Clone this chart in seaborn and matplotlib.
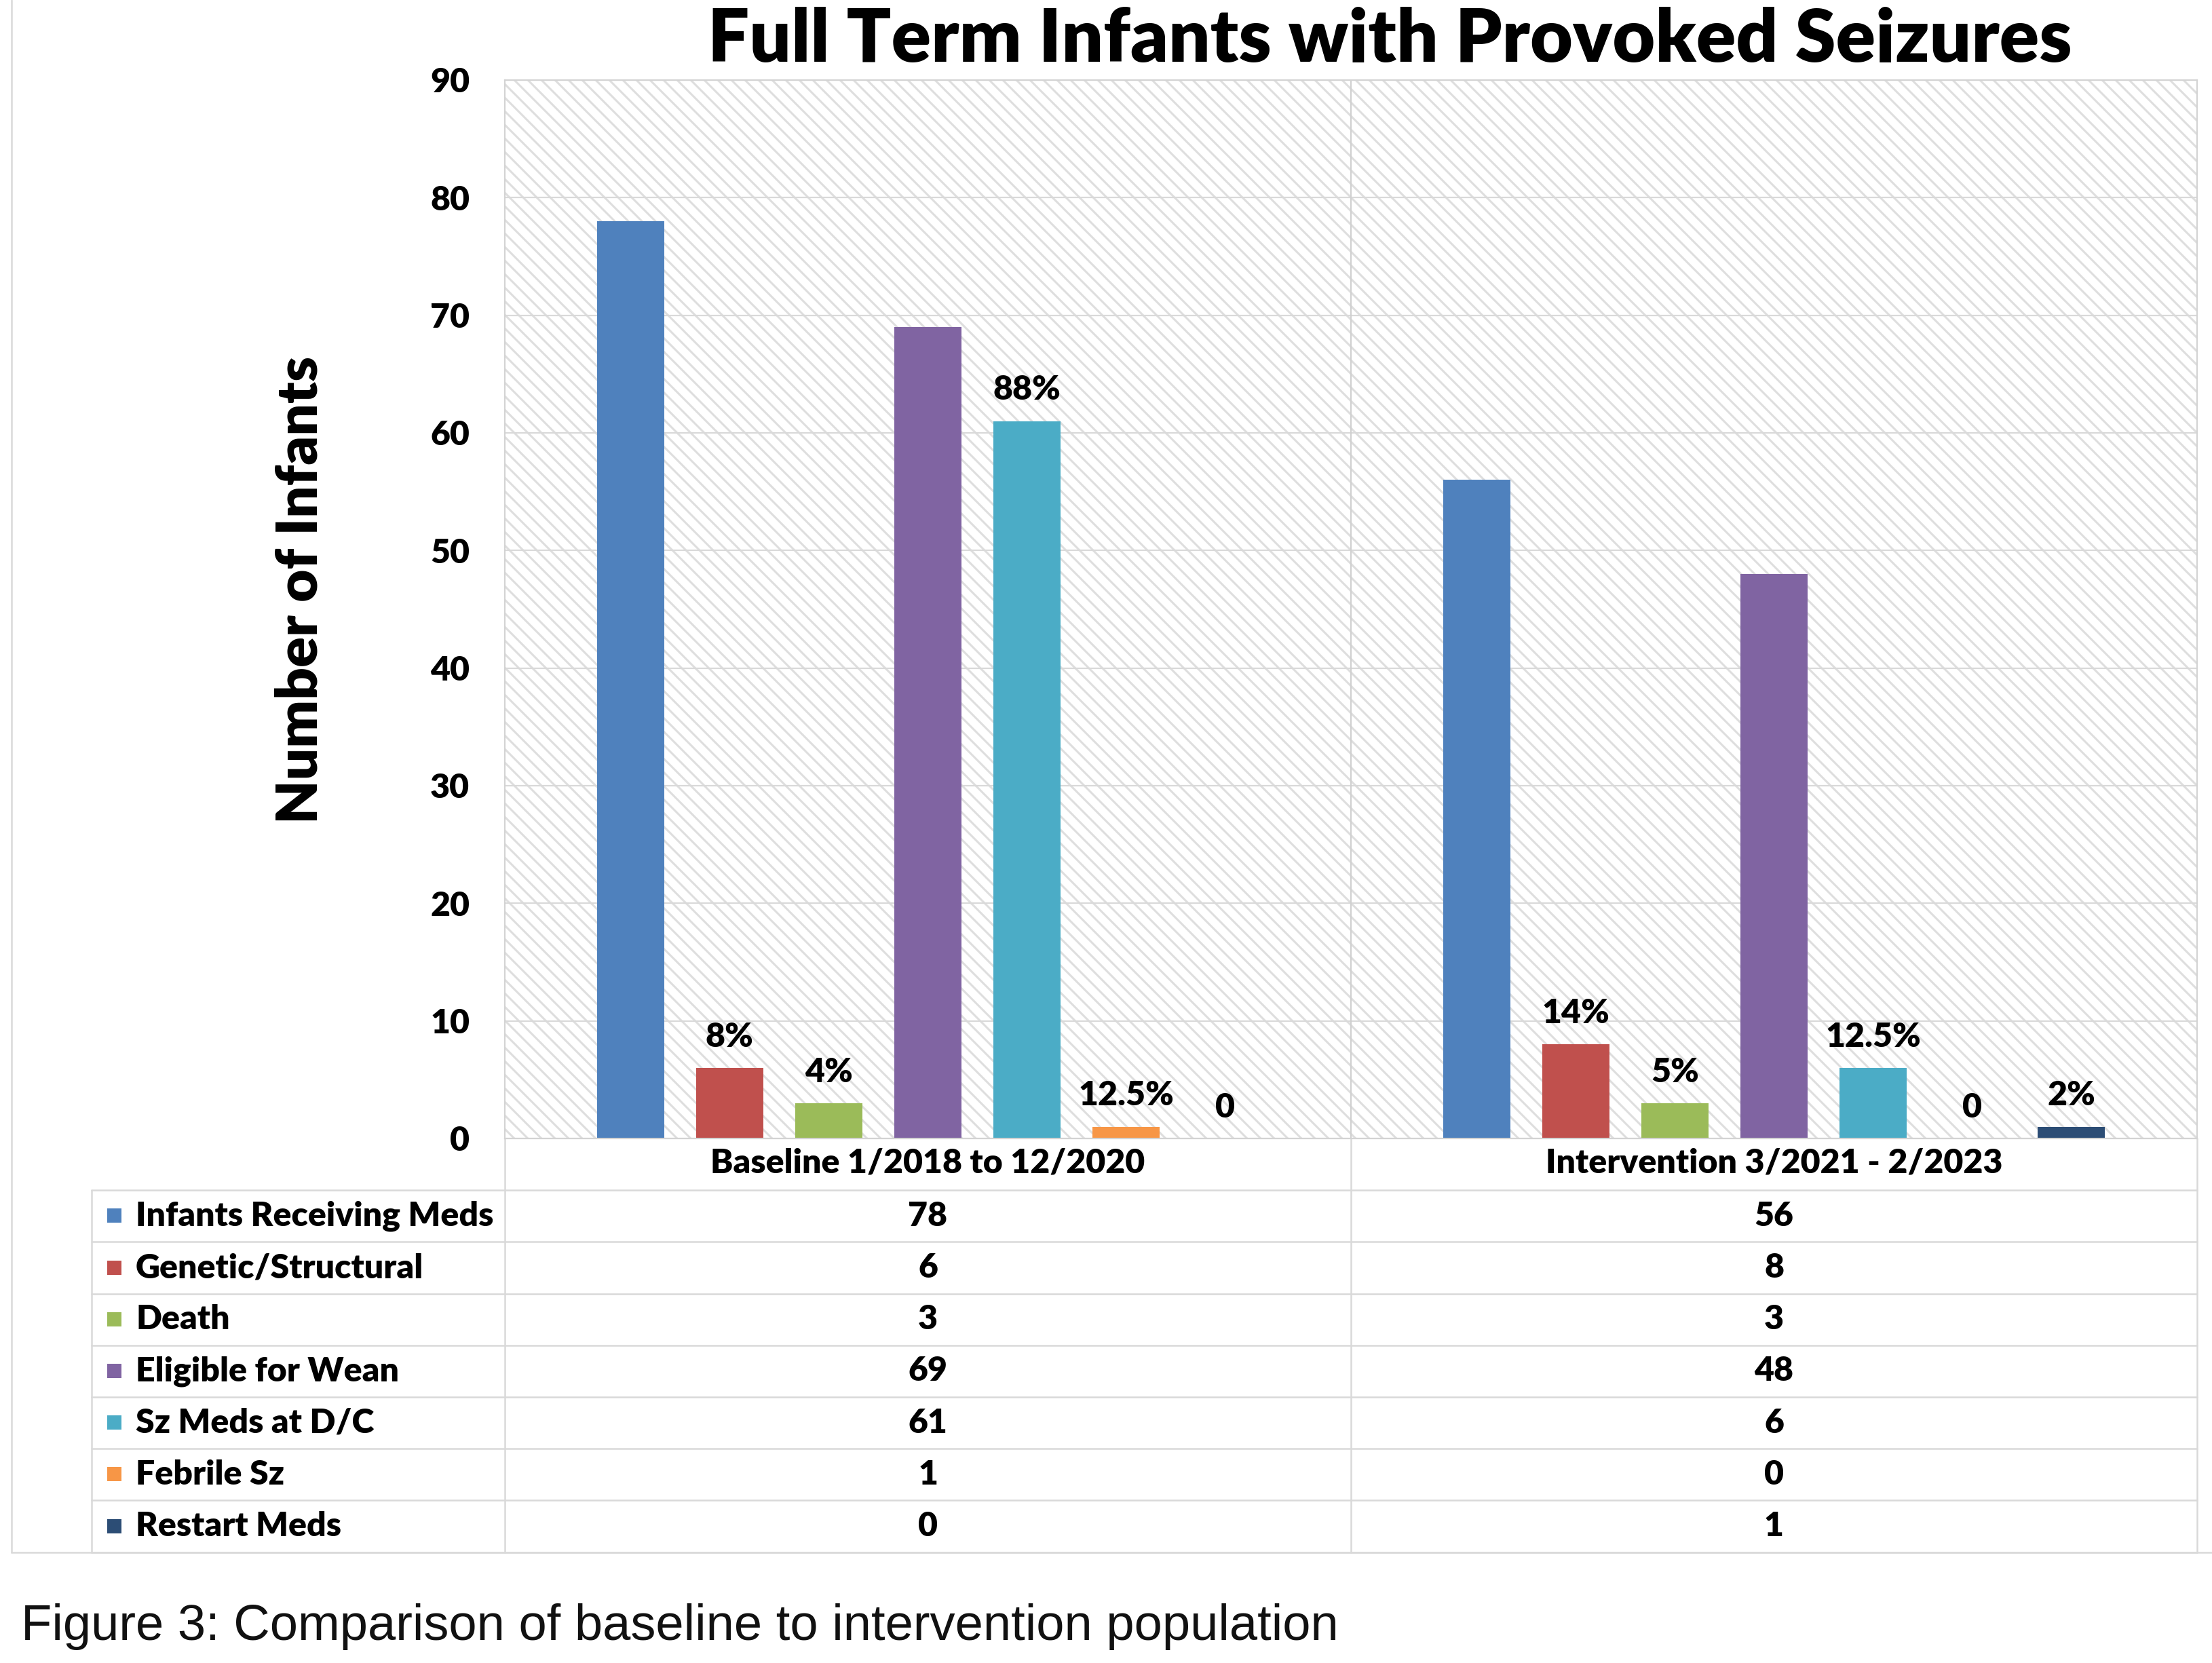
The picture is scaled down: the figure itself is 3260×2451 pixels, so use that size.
import matplotlib
matplotlib.use("Agg")
import matplotlib.pyplot as plt
from matplotlib.patches import Rectangle
import seaborn as sns
import pandas as pd

# ---------------- data ----------------
categories = ["Baseline 1/2018 to 12/2020", "Intervention 3/2021 - 2/2023"]
measures = ["Infants Receiving Meds", "Genetic/Structural", "Death",
            "Eligible for Wean", "Sz Meds at D/C", "Febrile Sz", "Restart Meds"]
baseline_values = [78, 6, 3, 69, 61, 1, 0]
intervention_values = [56, 8, 3, 48, 6, 0, 1]
baseline_labels = ["", "8%", "4%", "", "88%", "12.5%", "0"]
intervention_labels = ["", "14%", "5%", "", "12.5%", "0", "2%"]
colors = ["#4F81BD", "#C0504D", "#9BBB59", "#8064A2", "#4BACC6", "#F79646", "#2C4D75"]
yticks = [0, 10, 20, 30, 40, 50, 60, 70, 80, 90]
title = "Full Term Infants with Provoked Seizures"
ylabel = "Number of Infants"
caption = "Figure 3: Comparison of baseline to intervention population"

df = pd.DataFrame({
    "period": [categories[0]] * len(measures) + [categories[1]] * len(measures),
    "measure": measures + measures,
    "value": baseline_values + intervention_values,
})

# ---------------- layout (pixels) ----------------
W, H, DPI = 3260, 2451, 120
PL, PR, PT, PB = 744, 3238, 118, 1678
ROW = 76.2
TL = 135  # table left
GRID = "#D9D9D9"
WT = "black"

sns.set_style("white")
plt.rcParams["font.family"] = ["Lato", "DejaVu Sans"]
plt.rcParams["font.weight"] = "bold"
plt.rcParams["text.color"] = "black"
plt.rcParams["axes.labelcolor"] = "black"
plt.rcParams["xtick.color"] = "black"
plt.rcParams["ytick.color"] = "black"
plt.rcParams["hatch.linewidth"] = 1.8
plt.rcParams["hatch.color"] = "#DEDEDE"

fig = plt.figure(figsize=(W / DPI, H / DPI), dpi=DPI)
fig.patch.set_facecolor("white")
ax = fig.add_axes([PL / W, 1 - PB / H, (PR - PL) / W, (PB - PT) / H])

# hatched plot background
bg = Rectangle((0, 0), 1, 1, transform=ax.transAxes, facecolor="white",
               hatch="\\\\", edgecolor="#DEDEDE", linewidth=0, zorder=0.1)
ax.add_patch(bg)

sns.barplot(data=df, x="period", y="value", hue="measure", order=categories,
            hue_order=measures, palette=colors, width=0.82, gap=0.32,
            saturation=1, errorbar=None, linewidth=0, legend=False, ax=ax, zorder=2)

ax.set_xlim(-0.5, 1.5)
ax.set_ylim(0, 90)
ax.set_yticks(yticks)
ax.set_axisbelow(True)
ax.yaxis.grid(True, color=GRID, linewidth=1.3, zorder=0.5)
ax.xaxis.grid(False)
ax.axvline(0.5, color="#D0D0D0", linewidth=1.3, zorder=0.6)
for s in ax.spines.values():
    s.set_color("#D3D3D3")
    s.set_linewidth(1.3)
    s.set_visible(True)

FS = 30
WB = "heavy"
ax.tick_params(axis="y", length=0, pad=31, labelsize=FS, labelcolor=WT)
ax.tick_params(axis="x", length=0, pad=8, labelsize=FS, labelcolor=WT)
for t in ax.get_yticklabels() + ax.get_xticklabels():
    t.set_fontweight(WB)
ax.set_xlabel("")
ax.set_ylabel(ylabel, fontsize=50, fontweight=WB, color=WT)
ax.yaxis.set_label_coords((443 - PL) / (PR - PL), (PB - 869) / (PB - PT))
ax.yaxis.label.set_verticalalignment("center")

ax.set_title(title, fontsize=65, fontweight=WB, color=WT,
             x=(2048 - PL) / (PR - PL), pad=16)

# bar value labels
for cont, bl, il in zip(ax.containers, baseline_labels, intervention_labels):
    ax.bar_label(cont, labels=[bl, il], padding=14, fontsize=FS,
                 fontweight=WB, color=WT)

# ---------------- data table ----------------
ov = fig.add_axes([0, 0, 1, 1], zorder=-1)
ov.set_xlim(0, W)
ov.set_ylim(H, 0)
ov.axis("off")

cat_centers = [PL + (PR - PL) * 0.25, PL + (PR - PL) * 0.75]
top_rows = PB + ROW
bottom = top_rows + ROW * len(measures)

for i in range(len(measures) + 1):
    y = top_rows + ROW * i
    ov.plot([TL, PR], [y, y], color=GRID, linewidth=1.5)
ov.plot([TL, TL], [top_rows, bottom], color=GRID, linewidth=1.5)
for x in [PL, (PL + PR) / 2, PR]:
    ov.plot([x, x], [PB, bottom], color=GRID, linewidth=1.5)
# outer chart border
ov.plot([17, 17], [0, bottom], color=GRID, linewidth=1.5)
ov.plot([17, W], [bottom, bottom], color=GRID, linewidth=1.5)

for i, (m, c) in enumerate(zip(measures, colors)):
    yc = top_rows + ROW * (i + 0.5)
    ov.add_patch(Rectangle((158, yc - 11), 21, 21, facecolor=c, edgecolor="none"))
    ov.text(200, yc, m, fontsize=FS, fontweight=WB, color=WT, ha="left", va="center")
    ov.text(cat_centers[0], yc, str(baseline_values[i]), fontsize=FS,
            fontweight=WB, color=WT, ha="center", va="center")
    ov.text(cat_centers[1], yc, str(intervention_values[i]), fontsize=FS,
            fontweight=WB, color=WT, ha="center", va="center")

fig.text(31 / W, 1 - 2397 / H, caption, fontsize=44.5, fontweight="normal",
         color="#111111", family=["Liberation Sans", "DejaVu Sans"],
         ha="left", va="center")

fig.savefig("out.png", dpi=DPI, facecolor="white")
